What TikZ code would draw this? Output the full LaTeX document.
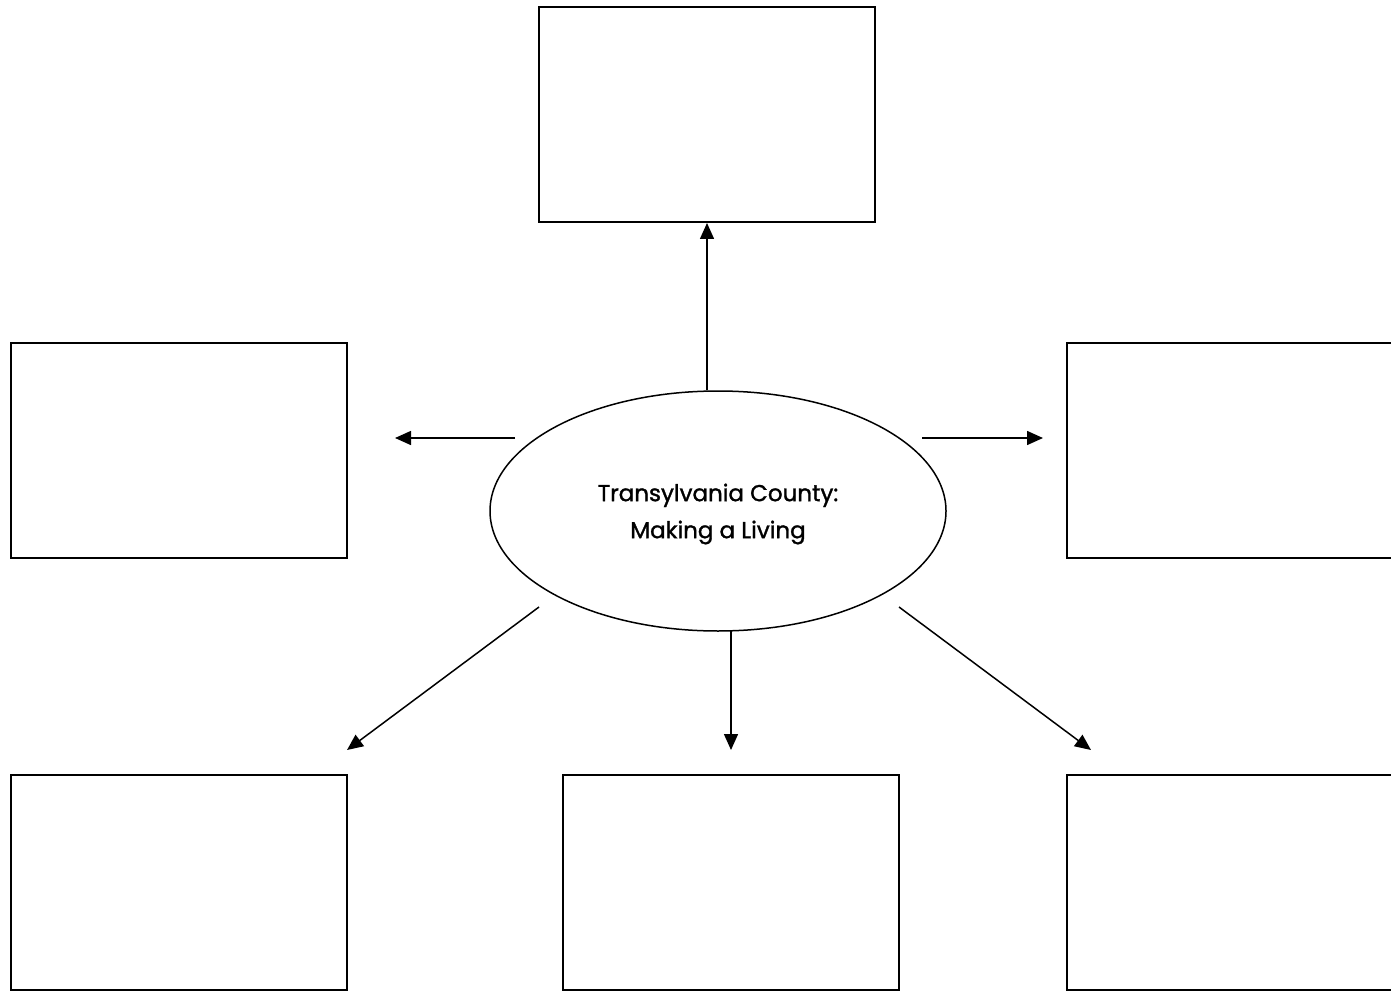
\documentclass[tikz,border=0pt]{standalone}
\usepackage{fontspec}
\setmainfont{Poppins}
\newfontfamily\cfont{Poppins}[FakeBold=1.3]
\usetikzlibrary{arrows.meta,shapes.geometric}
\begin{document}
\begin{tikzpicture}[x=1pt,y=-1pt,
  box/.style={draw,line width=2pt,minimum width=336pt,minimum height=215pt,inner sep=0pt,anchor=north west},
  arr/.style={line width=1.5pt,-{Triangle[length=16pt,width=14pt]}}]
\useasboundingbox (0,0) rectangle (1391,992);
\fill[white] (0,0) rectangle (1391,992);
\clip (0,0) rectangle (1391,992);
\node[box] (top) at (538,6) {};
\node[box] (left) at (10,342) {};
\node[box] (right) at (1066,342) {};
\node[box] (bl) at (10,774) {};
\node[box] (bm) at (562,774) {};
\node[box] (br) at (1066,774) {};
\node[draw,line width=1.5pt,ellipse,minimum width=456pt,minimum height=240pt,inner sep=0pt] (c) at (718,511) {};
\node[align=center,font=\cfont\fontsize{23}{37}\selectfont] (t) at (718,514) {Transylvania County:\\Making a Living};
\coordinate (l1) at (515,438); \coordinate (l2) at (395,438);
\coordinate (r1) at (922,438); \coordinate (r2) at (1043,438);
\coordinate (bl1) at (539,607); \coordinate (bl2) at (347,750);
\coordinate (bm1) at (731,631); \coordinate (bm2) at (731,750);
\coordinate (br1) at (899,607); \coordinate (br2) at (1091,750);
\draw[arr] (c.north -| top.south) -- (top.south);
\draw[arr] (l1) -- (l2);
\draw[arr] (r1) -- (r2);
\draw[arr] (bl1) -- (bl2);
\draw[arr] (bm1) -- (bm2);
\draw[arr] (br1) -- (br2);
\end{tikzpicture}
\end{document}
